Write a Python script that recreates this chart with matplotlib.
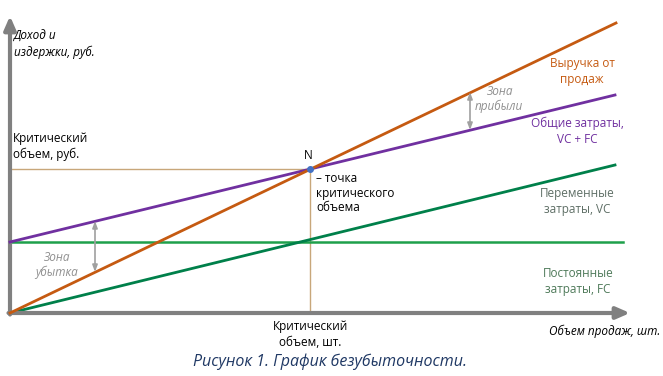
import matplotlib.pyplot as plt

plt.rcParams['font.family'] = ['Open Sans', 'DejaVu Sans']

# volume (x) and money (y) in chart units
q_end = [0, 606]
revenue = [0, 290]
q_cost = [0, 605]
total_cost = [71, 218]
var_cost = [0, 148]
q_fixed = [0, 613]
fixed_cost = [71, 71]
be_q = 300
be_money = 144

c_rev = '#c55a11'
c_tot = '#7030a0'
c_var = '#00804a'
c_fix = '#1ea04b'
c_be = '#c8a77a'
c_axis = '#808080'

fig = plt.figure(figsize=(6.63, 3.76), dpi=100)
ax = fig.add_axes([0, 0, 1, 1])
ax.set_xlim(-10, 653)
ax.set_ylim(-63, 313)
ax.axis('off')

# axes with arrows
ax.annotate('', xy=(620, 0), xytext=(-1.5, 0),
            arrowprops=dict(arrowstyle='-|>,head_length=0.8,head_width=0.35',
                            color=c_axis, lw=3, shrinkA=0, shrinkB=0))
ax.annotate('', xy=(0, 297), xytext=(0, -1.5),
            arrowprops=dict(arrowstyle='-|>,head_length=0.8,head_width=0.35',
                            color=c_axis, lw=3, shrinkA=0, shrinkB=0))

# break-even guide lines
ax.plot([0, be_q], [be_money, be_money], color=c_be, lw=1, zorder=1)
ax.plot([be_q, be_q], [0, be_money], color=c_be, lw=1, zorder=1)

ax.plot(q_fixed, fixed_cost, color=c_fix, lw=1.8, zorder=2)
ax.plot(q_cost, var_cost, color=c_var, lw=2, zorder=2)
ax.plot(q_cost, total_cost, color=c_tot, lw=2, zorder=3)
ax.plot(q_end, revenue, color=c_rev, lw=2, zorder=3)
ax.plot([be_q], [be_money], 'o', color='#4472c4', ms=4, zorder=4)

# zone arrows
ax.annotate('', xy=(85, 92), xytext=(85, 41),
            arrowprops=dict(arrowstyle='<|-|>,head_length=0.4,head_width=0.15',
                            color='#a0a0a0', lw=1.2, shrinkA=0, shrinkB=0))
ax.annotate('', xy=(460, 221), xytext=(460, 183),
            arrowprops=dict(arrowstyle='<|-|>,head_length=0.4,head_width=0.15',
                            color='#a0a0a0', lw=1.2, shrinkA=0, shrinkB=0))

fs = 8.5
ls = 1.3
ax.text(4, 283, 'Доход и\nиздержки, руб.', fontsize=fs, style='italic',
        va='top', ha='left', linespacing=ls)
ax.text(3, 181, 'Критический\nобъем, руб.', fontsize=fs, va='top', ha='left',
        linespacing=ls)
ax.text(be_q - 2, 151, 'N', fontsize=fs, ha='center', va='bottom')
ax.text(be_q + 6, 141, '– точка\nкритического\nобъема', fontsize=fs,
        va='top', ha='left', linespacing=1.15)
ax.text(572, 256, 'Выручка от\nпродаж', fontsize=fs, color=c_rev,
        ha='center', va='top', linespacing=ls)
ax.text(489, 228, 'Зона\nприбыли', fontsize=fs, color='#909090',
        style='italic', ha='center', va='top', linespacing=1.2)
ax.text(567, 196, 'Общие затраты,\nVC + FC', fontsize=fs, color=c_tot,
        ha='center', va='top', linespacing=ls)
ax.text(567, 126, 'Переменные\nзатраты, VC', fontsize=fs, color='#5f6f66',
        ha='center', va='top', linespacing=ls)
ax.text(568, 46, 'Постоянные\nзатраты, FC', fontsize=fs, color='#4f7a5a',
        ha='center', va='top', linespacing=ls)
ax.text(46, 62, 'Зона\nубытка', fontsize=fs, color='#909090',
        style='italic', ha='center', va='top', linespacing=1.2)
ax.text(be_q, -7, 'Критический\nобъем, шт.', fontsize=fs, ha='center',
        va='top', linespacing=ls)
ax.text(650, -12, 'Объем продаж, шт.', fontsize=fs, style='italic',
        ha='right', va='top')
ax.text(320, -40, 'Рисунок 1. График безубыточности.', fontsize=11.5,
        style='italic', color='#1f3864', ha='center', va='top')

fig.savefig('out.png', dpi=100)
